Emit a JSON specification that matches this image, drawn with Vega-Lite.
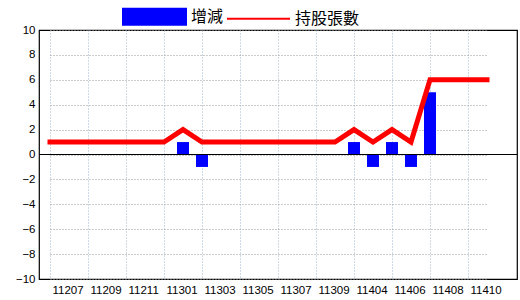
{
  "$schema": "https://vega.github.io/schema/vega-lite/v6.json",
  "width": 478,
  "height": 249,
  "autosize": {"type": "none"},
  "padding": {"left": 39, "top": 30, "right": 3, "bottom": 21},
  "background": "white",
  "config": {
    "view": {"stroke": "black", "strokeWidth": 1.2},
    "axis": {"labelFont": "Liberation Sans", "labelFontSize": 11.5, "labelColor": "black", "labelOverlap": false},
    "axisY": {
      "title": null,
      "values": [-10, -8, -6, -4, -2, 0, 2, 4, 6, 8, 10],
      "ticks": false,
      "labelPadding": 4,
      "domain": false,
      "grid": true,
      "gridColor": "#999999",
      "gridDash": [1, 2],
      "gridWidth": 1
    }
  },
  "data": {
    "values": [
      {"month": "11207", "change": 0, "holdings": 1},
      {"month": "11208", "change": 0, "holdings": 1},
      {"month": "11209", "change": 0, "holdings": 1},
      {"month": "11210", "change": 0, "holdings": 1},
      {"month": "11211", "change": 0, "holdings": 1},
      {"month": "11212", "change": 0, "holdings": 1},
      {"month": "11301", "change": 0, "holdings": 1},
      {"month": "11302", "change": 1, "holdings": 2},
      {"month": "11303", "change": -1, "holdings": 1},
      {"month": "11304", "change": 0, "holdings": 1},
      {"month": "11305", "change": 0, "holdings": 1},
      {"month": "11306", "change": 0, "holdings": 1},
      {"month": "11307", "change": 0, "holdings": 1},
      {"month": "11308", "change": 0, "holdings": 1},
      {"month": "11309", "change": 0, "holdings": 1},
      {"month": "11310", "change": 0, "holdings": 1},
      {"month": "11404", "change": 1, "holdings": 2},
      {"month": "11405", "change": -1, "holdings": 1},
      {"month": "11406", "change": 1, "holdings": 2},
      {"month": "11407", "change": -1, "holdings": 1},
      {"month": "11408", "change": 5, "holdings": 6},
      {"month": "11409", "change": 0, "holdings": 6},
      {"month": "11410", "change": 0, "holdings": 6},
      {"month": "11411", "change": 0, "holdings": 6}
    ]
  },
  "layer": [
    {
      "mark": {"type": "bar", "width": 12},
      "encoding": {
        "x": {
          "field": "month",
          "type": "ordinal",
          "sort": null,
          "scale": {"type": "point", "range": [11, 448], "padding": 0},
          "axis": {
            "title": null,
            "values": ["11207","11209","11211","11301","11303","11305","11307","11309","11404","11406","11408","11410"],
            "labelAngle": 0,
            "labelAlign": "left",
            "labelOffset": 2,
            "labelPadding": 5,
            "ticks": false,
            "domain": false,
            "grid": true,
            "gridColor": "#9CB6CC",
            "gridDash": [1, 2],
            "gridWidth": 1
          }
        },
        "y": {
          "field": "change",
          "type": "quantitative",
          "scale": {"domain": [-10, 10], "nice": false},
          "axis": {"title": null, "values": [-10, -8, -6, -4, -2, 0, 2, 4, 6, 8, 10], "tickCount": 11}
        },
        "color": {
          "datum": "增減",
          "scale": {"domain": ["增減", "持股張數"], "range": ["#0000FF", "#FF0000"]},
          "legend": {
            "title": null,
            "orient": "none",
            "legendX": 83,
            "legendY": -46,
            "direction": "horizontal",
            "symbolSize": 3969,
            "labelFont": "Noto Sans CJK TC",
            "labelFontSize": 16,
            "labelColor": "black",
            "labelOffset": 4,
            "columnPadding": -1,
            "padding": 0,
            "encode": {
              "symbols": {
                "update": {
                  "shape": {"signal": "datum.value === '增減' ? 'M-1,-0.254H1V0.254H-1Z' : 'M-1,0H1'"},
                  "fill": {"signal": "datum.value === '增減' ? '#0000FF' : 'transparent'"},
                  "stroke": {"signal": "datum.value === '增減' ? 'transparent' : '#FF0000'"},
                  "strokeWidth": {"value": 2},
                  "opacity": {"value": 1},
                  "fillOpacity": {"value": 1}
                }
              }
            }
          }
        }
      }
    },
    {
      "mark": {"type": "rule", "color": "black", "strokeWidth": 1.2},
      "encoding": {"y": {"datum": 0, "type": "quantitative", "axis": {"title": null, "values": [-10, -8, -6, -4, -2, 0, 2, 4, 6, 8, 10], "tickCount": 11}}}
    },
    {
      "mark": {"type": "line", "strokeWidth": 5, "strokeJoin": "miter", "strokeCap": "square"},
      "encoding": {
        "x": {"field": "month", "type": "ordinal", "sort": null},
        "y": {"field": "holdings", "type": "quantitative", "axis": {"title": null, "values": [-10, -8, -6, -4, -2, 0, 2, 4, 6, 8, 10], "tickCount": 11}},
        "color": {"datum": "持股張數"}
      }
    }
  ]
}
